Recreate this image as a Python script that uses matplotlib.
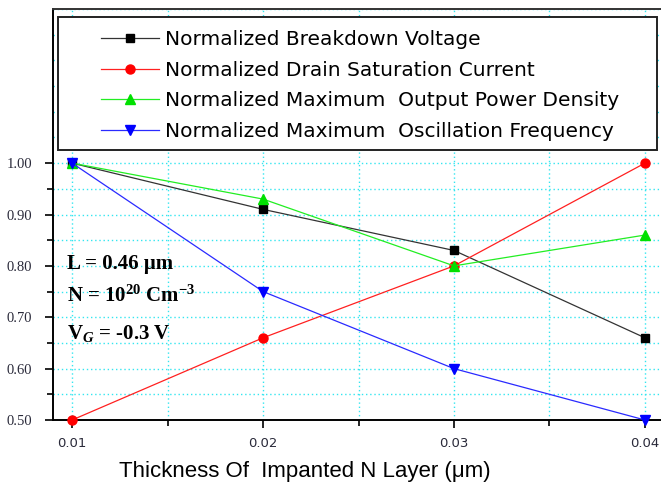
"""Normalized device figures vs. implanted N layer thickness."""

import matplotlib

matplotlib.use("Agg")

import matplotlib.pyplot as plt
from matplotlib.patches import Rectangle
from matplotlib.ticker import FixedLocator, FuncFormatter

plt.rcParams["mathtext.fontset"] = "custom"
plt.rcParams["mathtext.rm"] = "Liberation Serif:bold"
plt.rcParams["mathtext.bf"] = "Liberation Serif:bold"
plt.rcParams["mathtext.it"] = "Liberation Serif:bold:italic"

# data
thickness = [0.01, 0.02, 0.03, 0.04]
breakdown_voltage = [1.00, 0.91, 0.83, 0.66]
drain_current = [0.50, 0.66, 0.80, 1.00]
output_power = [1.00, 0.93, 0.80, 0.86]
osc_frequency = [1.00, 0.75, 0.60, 0.50]

series_labels = [
    "Normalized Breakdown Voltage",
    "Normalized Drain Saturation Current",
    "Normalized Maximum  Output Power Density",
    "Normalized Maximum  Oscillation Frequency",
]
x_ticks = [0.01, 0.02, 0.03, 0.04]
x_minor = [0.015, 0.025, 0.035]
y_ticks = [0.50, 0.60, 0.70, 0.80, 0.90, 1.00, 1.10, 1.20, 1.30]
y_minor = [0.55, 0.65, 0.75, 0.85, 0.95, 1.05, 1.15, 1.25]

W, H = 661, 487
fig = plt.figure(figsize=(W / 100, H / 100), dpi=100)
ax = fig.add_axes([53 / W, 1 - 420 / H, 608 / W, 411 / H])

styles = [
    dict(color="#333333", marker="s", ms=5.5, mfc="black", mec="black"),
    dict(color="#ff2020", marker="o", ms=6.5, mfc="red", mec="red"),
    dict(color="#22ee22", marker="^", ms=7.5, mfc="#00e000", mec="#00e000"),
    dict(color="#2a2aff", marker="v", ms=7.5, mfc="#0000ff", mec="#0000ff"),
]
all_series = [breakdown_voltage, drain_current, output_power, osc_frequency]
handles = []
for values, label, st in zip(all_series, series_labels, styles):
    (ln,) = ax.plot(thickness, values, lw=0.9, label=label, clip_on=False,
                    zorder=4, **st)
    handles.append(ln)

ax.set_xlim(0.0090, 0.04084)
ax.set_ylim(0.5, 1.30)

ax.xaxis.set_major_locator(FixedLocator(x_ticks))
ax.xaxis.set_minor_locator(FixedLocator(x_minor))
ax.yaxis.set_major_locator(FixedLocator(y_ticks))
ax.yaxis.set_minor_locator(FixedLocator(y_minor))
ax.xaxis.set_major_formatter(FuncFormatter(lambda v, p: f"{v:.2f}"))
ax.yaxis.set_major_formatter(
    FuncFormatter(lambda v, p: f"{v:.2f}" if v <= 1.001 else ""))

ax.tick_params(axis="both", which="major", direction="out", length=6,
               width=1.2, color="black")
ax.tick_params(axis="both", which="minor", direction="out", length=4.5,
               width=1.2, color="black")
ax.tick_params(axis="x", which="major", pad=6, labelsize=9.5,
               labelcolor="#2a2a3a")
ax.tick_params(axis="y", which="major", pad=9, labelsize=10.5,
               labelcolor="#2a2a3a")
for lab in ax.get_yticklabels():
    lab.set_fontfamily("Liberation Serif")

# hide tick marks above 1.00
for tick, val in zip(ax.yaxis.get_major_ticks(), y_ticks):
    if val > 1.001:
        tick.tick1line.set_visible(False)
for tick, val in zip(ax.yaxis.get_minor_ticks(), y_minor):
    if val > 1.001:
        tick.tick1line.set_visible(False)

ax.grid(True, which="both", color="#33e6f0", linestyle=(0, (1, 2)), lw=1.0)
ax.set_axisbelow(True)

for side in ["left", "bottom"]:
    ax.spines[side].set_linewidth(1.4)
ax.spines["top"].set_linewidth(1.4)
ax.spines["top"].set_color("#333333")
ax.spines["right"].set_visible(False)

# legend frame drawn as a patch, legend itself frameless
x0, x1 = (58 - 53) / 608, (657 - 53) / 608
y0, y1 = (420 - 150) / 411, (420 - 17) / 411
ax.add_patch(Rectangle((x0, y0), x1 - x0, y1 - y0, transform=ax.transAxes,
                       facecolor="white", edgecolor="#222222", lw=1.4,
                       zorder=3))
leg = ax.legend(handles=handles, loc="upper left",
                bbox_to_anchor=((101 - 53) / 608, (420 - 30) / 411),
                frameon=False, borderpad=0, borderaxespad=0,
                handlelength=2.9, handletextpad=0.3, labelspacing=0.58,
                prop={"family": "DejaVu Sans", "size": 14.5})
leg.set_zorder(5)

notes = [
    (0.367, "L = 0.46 \u03bcm"),
    (0.287, "N = 10$^{20}$ Cm$^{-3}$"),
    (0.197, "V$_{G}$ = -0.3 V"),
]
for ypos, txt in notes:
    ax.text((67 - 53) / 608, ypos, txt, transform=ax.transAxes,
            fontsize=15, fontweight="bold", family="Liberation Serif",
            va="baseline", ha="left", zorder=6)

fig.text(305 / W, (487 - 471) / H, "Thickness Of  Impanted N Layer (\u03bcm)",
         ha="center", va="center", fontsize=16, family="Liberation Sans")

fig.savefig("out.png", dpi=100)
